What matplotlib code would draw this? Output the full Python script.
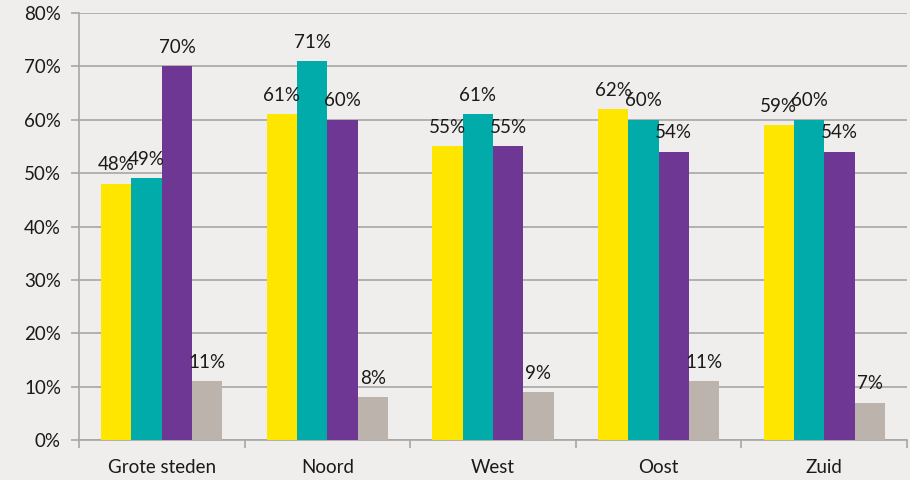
import matplotlib
matplotlib.use("Agg")
import matplotlib.pyplot as plt
import numpy as np

categories = ["Grote steden", "Noord", "West", "Oost", "Zuid"]
series_yellow = [48, 61, 55, 62, 59]
series_teal = [49, 71, 61, 60, 60]
series_purple = [70, 60, 55, 54, 54]
series_grey = [11, 8, 9, 11, 7]
colors = ["#FFE600", "#00ABAA", "#6E3793", "#BCB4AC"]
yticks = [0, 10, 20, 30, 40, 50, 60, 70, 80]

plt.rcParams['font.family'] = ['Lato', 'DejaVu Sans']
bg = "#EFEEEC"
fs = 13.5
fig = plt.figure(figsize=(9.1, 4.8), dpi=100, facecolor=bg)
ax = fig.add_axes([79/910, 40/480, (907-79)/910, (440-13)/480])
ax.set_facecolor(bg)

series = [series_yellow, series_teal, series_purple, series_grey]
x = np.arange(len(categories))
w = 0.183
for i, (vals, c) in enumerate(zip(series, colors)):
    pos = x + (i - 1.5) * w
    ax.bar(pos, vals, width=w, color=c, zorder=3)
    for p, v in zip(pos, vals):
        ax.annotate(f"{v}%", (p, v), xytext=(0, 7.5), textcoords="offset points",
                    ha="center", va="bottom", fontsize=fs, color="#1a1a1a", zorder=4)

ax.set_xlim(-0.5, len(categories) - 0.5)
ax.set_ylim(0, 80)
ax.set_yticks(yticks)
ax.set_yticklabels([f"{t}%" for t in yticks], fontsize=fs, color="#1a1a1a")
ax.yaxis.grid(True, color="#A6A6A6", linewidth=1.2, zorder=0)
ax.set_axisbelow(True)

ax.set_xticks(x)
ax.set_xticklabels(categories, fontsize=fs, color="#1a1a1a")
ax.tick_params(axis="x", length=0, pad=14)
ax.set_xticks(np.arange(-0.5, len(categories)), minor=True)
ax.tick_params(axis="x", which="minor", length=6, color="#A6A6A6", width=1.2)
ax.tick_params(axis="y", length=6, color="#A6A6A6", width=1.2, pad=7)

for s in ["top", "right"]:
    ax.spines[s].set_visible(False)
for s in ["left", "bottom"]:
    ax.spines[s].set_color("#A6A6A6")
    ax.spines[s].set_linewidth(1.2)

fig.savefig("out.png", dpi=100, facecolor=bg)
